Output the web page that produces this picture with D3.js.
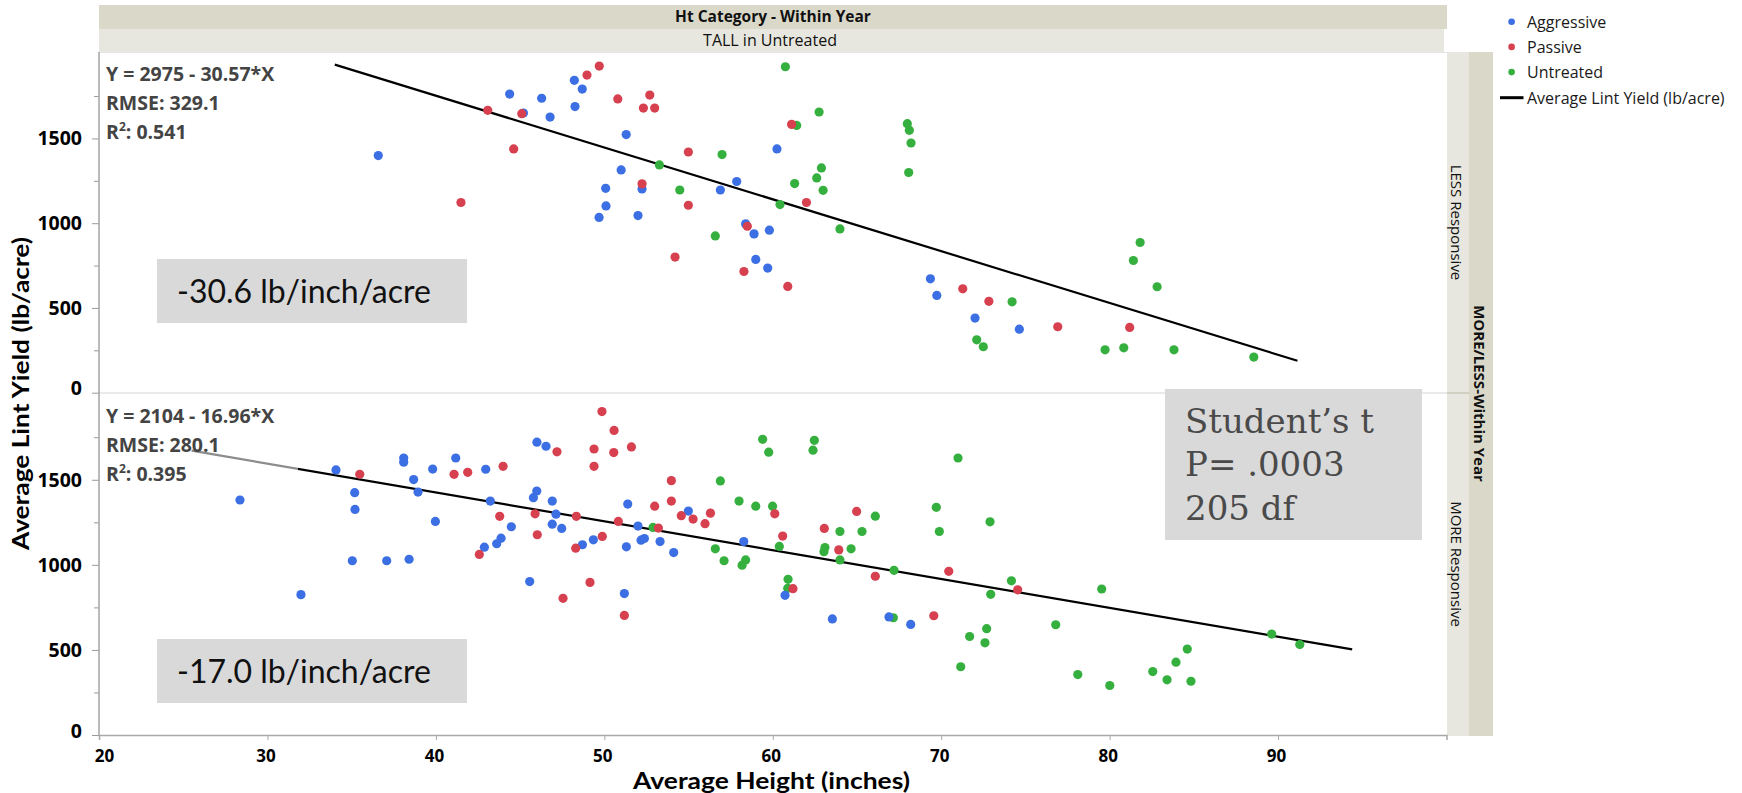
<!DOCTYPE html>
<html>
<head>
<meta charset="utf-8">
<script src="https://cdn.jsdelivr.net/npm/d3@7"></script>
<style>
  body { margin: 0; background: #fff; }
  svg { display: block; font-family: "Open Sans", "Noto Sans", sans-serif; }
</style>
</head>
<body>
<svg id="chart" width="1742" height="793"></svg>
<script>
// ---- data -------------------------------------------------------------
const panelNames = ["LESS Responsive", "MORE Responsive"];
const treatments = ["Aggressive", "Passive", "Untreated"];
const treatmentColors = ["#3b6fe3", "#d6404f", "#35b03f"];
const xTickValues = [20, 30, 40, 50, 60, 70, 80, 90];
const yMajorTicks = [0, 500, 1000, 1500];
const yMinorTicks = [250, 750, 1250, 1750];

// [average height (inches), average lint yield (lb/acre)]
const lessAggressive = [[36.58,1399],[45.2,1650],[44.38,1762],[46.28,1737],[46.78,1626],[48.22,1843],[48.69,1791],[48.26,1688],[51.3,1523],[51.0,1314],[50.08,1206],[50.1,1102],[49.69,1034],[52.24,1202],[52.0,1045],[56.89,1196],[57.86,1246],[58.39,996],[58.89,937],[59.8,959],[58.99,786],[59.7,735],[60.25,1438],[69.36,672],[69.74,574],[72.01,440],[74.64,375]];
const lessPassive = [[41.49,1122],[43.08,1666],[45.1,1646],[44.62,1438],[48.97,1874],[49.7,1927],[50.8,1733],[52.7,1756],[52.32,1679],[52.99,1679],[52.24,1232],[54.99,1420],[54.99,1106],[54.2,800],[58.49,982],[58.29,715],[60.89,627],[61.12,1583],[62.0,1122],[71.28,613],[72.83,539],[76.92,389],[81.19,385]];
const lessUntreated = [[53.27,1344],[54.48,1196],[56.99,1405],[56.59,925],[60.75,1923],[61.42,1577],[62.75,1656],[62.89,1326],[62.61,1267],[61.3,1234],[62.99,1194],[60.43,1110],[63.99,966],[67.99,1587],[68.11,1548],[68.21,1473],[68.07,1299],[72.11,312],[72.5,271],[74.21,536],[81.81,886],[81.41,780],[82.82,625],[79.73,253],[80.84,265],[83.82,253],[88.56,210]];

const moreAggressive = [[28.37,1381],[31.99,825],[34.07,1558],[35.18,1424],[35.2,1326],[35.04,1024],[37.08,1024],[38.41,1033],[38.09,1628],[38.09,1603],[38.68,1501],[38.94,1428],[39.81,1563],[39.97,1255],[41.18,1628],[42.96,1562],[43.23,1375],[44.48,1224],[43.87,1157],[43.61,1124],[42.88,1104],[45.57,902],[46.0,1721],[46.54,1697],[45.99,1434],[45.79,1395],[46.91,1375],[46.91,1239],[47.13,1298],[47.47,1214],[48.7,1118],[49.35,1147],[51.39,1357],[52.0,1228],[51.31,1106],[52.18,1145],[52.38,1155],[51.19,831],[53.31,1137],[54.12,1072],[54.99,1316],[58.28,1137],[60.73,821],[63.54,682],[66.9,694],[68.19,650]];
const morePassive = [[35.48,1532],[41.08,1532],[41.89,1544],[43.99,1579],[43.79,1285],[42.58,1061],[45.89,1300],[46.02,1177],[47.19,1664],[48.34,1285],[48.3,1098],[49.88,1167],[49.15,897],[47.55,803],[49.86,1901],[50.58,1790],[49.39,1681],[50.56,1660],[49.39,1579],[51.61,1693],[50.83,1255],[51.19,703],[52.99,1345],[53.21,1216],[53.98,1495],[53.98,1375],[54.57,1289],[55.27,1269],[55.98,1242],[56.3,1304],[60.12,1300],[60.59,1169],[61.2,860],[63.06,1214],[63.92,1088],[64.98,1314],[66.09,933],[69.56,701],[70.45,962],[74.54,853]];
const moreUntreated = [[52.89,1220],[56.89,1493],[56.59,1094],[57.11,1024],[58.0,1375],[58.99,1345],[58.18,998],[58.39,1029],[59.4,1738],[59.76,1662],[59.99,1345],[60.39,1108],[60.91,915],[60.89,862],[62.47,1732],[62.39,1674],[63.1,1102],[63.04,1077],[63.99,1196],[63.99,1029],[64.65,1094],[65.3,1196],[66.09,1286],[67.2,968],[67.16,689],[69.71,1338],[69.89,1196],[71.0,1628],[72.9,1253],[72.94,827],[72.7,625],[72.6,542],[71.69,579],[71.16,401],[74.17,906],[76.8,648],[79.53,858],[78.11,355],[80.01,291],[82.56,373],[83.41,324],[83.94,428],[84.61,505],[84.83,316],[89.62,593],[91.29,532]];

// linear fits per panel: yield = intercept + slope * height
const fitIntercepts = [2975, 2104];
const fitSlopes = [-30.57, -16.96];
const fitRMSE = ["329.1", "280.1"];
const fitR2 = ["0.541", "0.395"];
const fitFrom = [34.0, 25.5];
const fitTo = [91.15, 94.4];

const testLines = ["Student\u2019s t", "P= .0003", "205 df"];

// ---- layout -----------------------------------------------------------
const svg = d3.select("#chart");
const plotL = 99, plotR = 1447;
const panelTop = [52, 393], panelBottom = [393, 735];
const stripDark = "#dad9c9", stripLight = "#e7e7df";

const x = d3.scaleLinear().domain([20, 100]).range([plotL, plotR - 0.5]);
const yScales = [0, 1].map(i =>
  d3.scaleLinear().domain([0, 2010]).range([panelBottom[i] - (i === 0 ? 0.3 : 0), panelTop[i]]));

const panelSeries = [
  [lessAggressive, lessPassive, lessUntreated],
  [moreAggressive, morePassive, moreUntreated]
];

// header strips
svg.append("rect").attr("x", plotL).attr("y", 5).attr("width", plotR - plotL).attr("height", 24).attr("fill", stripDark);
svg.append("rect").attr("x", plotL).attr("y", 29).attr("width", plotR - plotL - 3).attr("height", 23).attr("fill", stripLight);
svg.append("text").attr("x", 773).attr("y", 22).attr("text-anchor", "middle")
  .attr("font-size", 15.5).attr("font-weight", 700).attr("fill", "#111").text("Ht Category - Within Year");
svg.append("text").attr("x", 770).attr("y", 46).attr("text-anchor", "middle")
  .attr("font-size", 16).attr("fill", "#111").text("TALL in Untreated");

// side strips
svg.append("rect").attr("x", plotR).attr("y", 52).attr("width", 22).attr("height", 684).attr("fill", stripLight);
svg.append("rect").attr("x", plotR + 22).attr("y", 52).attr("width", 24).attr("height", 684).attr("fill", stripDark);
svg.append("line").attr("x1", plotR).attr("x2", plotR + 22).attr("y1", 393).attr("y2", 393)
  .attr("stroke", "#cfcfc2").attr("stroke-width", 2);
panelNames.forEach((name, i) => {
  const cy = (panelTop[i] + panelBottom[i]) / 2;
  svg.append("text").attr("transform", `translate(${plotR + 10},${cy}) rotate(90)`)
    .attr("text-anchor", "middle").attr("dominant-baseline", "central")
    .attr("font-size", 15).attr("fill", "#111").text(name);
});
svg.append("text").attr("transform", `translate(${plotR + 33},${393.5}) rotate(90)`)
  .attr("text-anchor", "middle").attr("dominant-baseline", "central")
  .attr("font-size", 15).attr("font-weight", 700).attr("fill", "#111").text("MORE/LESS-Within Year");

// panel frame lines
svg.append("line").attr("x1", plotL).attr("x2", plotR).attr("y1", 52.5).attr("y2", 52.5).attr("stroke", "#e6e6e6");
svg.append("line").attr("x1", plotL).attr("x2", plotR).attr("y1", 393).attr("y2", 393).attr("stroke", "#e3e3e3").attr("stroke-width", 1.5);

// y axes
yScales.forEach((y, i) => {
  const g = svg.append("g").attr("transform", `translate(${plotL},0)`);
  g.call(d3.axisLeft(y).tickValues(yMinorTicks).tickSize(5).tickFormat(""));
  const gm = svg.append("g").attr("transform", `translate(${plotL},0)`);
  gm.call(d3.axisLeft(y).tickValues(yMajorTicks).tickSize(7).tickPadding(10).tickFormat(d3.format("d")));
  [g, gm].forEach(a => {
    a.select(".domain").remove();
    a.selectAll("line").attr("stroke", "#9a9a9a");
  });
  gm.selectAll("text").attr("font-size", 19.5).attr("font-weight", 700).attr("fill", "#000")
    .attr("font-family", "'Open Sans', sans-serif")
    .attr("y", d => d === 0 ? -4 : 0);
});
svg.append("line").attr("x1", plotL).attr("x2", plotL).attr("y1", 52).attr("y2", 736)
  .attr("stroke", "#a3a3a3").attr("stroke-width", 1.5);

// x axis
const gx = svg.append("g").attr("transform", `translate(0,735)`)
  .call(d3.axisBottom(x).tickValues(xTickValues).tickSize(5).tickPadding(10));
gx.select(".domain").attr("stroke", "#a8a8a8").attr("stroke-width", 1.5);
gx.selectAll("line").attr("stroke", "#a8a8a8");
gx.selectAll("text").attr("font-size", 17).attr("font-weight", 700).attr("fill", "#000")
  .attr("font-family", "'Open Sans', sans-serif")
  .attr("x", d => d === 20 ? 5 : -2);

// axis titles
svg.append("text").attr("x", 771.5).attr("y", 789).attr("text-anchor", "middle")
  .attr("font-family", "Lato, 'Open Sans', sans-serif")
  .attr("font-size", 23).attr("font-weight", 700).attr("fill", "#000")
  .attr("textLength", 277).attr("lengthAdjust", "spacingAndGlyphs")
  .text("Average Height (inches)");
svg.append("text").attr("transform", "translate(29,393.5) rotate(-90)").attr("text-anchor", "middle")
  .attr("font-family", "Lato, 'Open Sans', sans-serif")
  .attr("font-size", 23).attr("font-weight", 700).attr("fill", "#000")
  .attr("textLength", 313).attr("lengthAdjust", "spacingAndGlyphs")
  .text("Average Lint Yield (lb/acre)");

// fits, points and annotations per panel
const slopeBoxY = [259, 639];
panelSeries.forEach((series, i) => {
  const y = yScales[i];
  const line = d3.line().x(d => x(d)).y(d => y(fitIntercepts[i] + fitSlopes[i] * d));
  svg.append("path").datum([fitFrom[i], fitTo[i]]).attr("d", line)
    .attr("fill", "none").attr("stroke", "#000").attr("stroke-width", 2.2);

  // points: untreated first, then aggressive, then passive on top
  [2, 0, 1].forEach(k => {
    svg.append("g").selectAll("circle").data(series[k]).join("circle")
      .attr("cx", d => x(d[0])).attr("cy", d => y(d[1])).attr("r", 4.6)
      .attr("fill", treatmentColors[k]);
  });

  // fit summary with a translucent backing
  const t0 = panelTop[i];
  svg.append("rect").attr("x", 104).attr("y", t0 + 10).attr("width", 194).attr("height", 88)
    .attr("fill", "#fff").attr("opacity", 0.55);
  const ann = svg.append("g").attr("font-size", 19.5).attr("font-weight", 700).attr("fill", "#444");
  const base = i === 0 ? [81.3, 110.3, 139] : [423, 452, 480.7];
  ann.append("text").attr("x", 106).attr("y", base[0])
    .text(`Y = ${fitIntercepts[i]} - ${Math.abs(fitSlopes[i]).toFixed(2)}*X`);
  ann.append("text").attr("x", 106).attr("y", base[1]).text(`RMSE: ${fitRMSE[i]}`);
  const r2 = ann.append("text").attr("x", 106).attr("y", base[2]);
  r2.append("tspan").text("R");
  r2.append("tspan").attr("font-size", 12).attr("dy", -8).text("2");
  r2.append("tspan").attr("dy", 8).text(`: ${fitR2[i]}`);

  // slope call-out
  svg.append("rect").attr("x", 157).attr("y", slopeBoxY[i]).attr("width", 310).attr("height", 64).attr("fill", "#d9d9d9");
  svg.append("text").attr("x", 177).attr("y", slopeBoxY[i] + 43.5)
    .attr("font-family", "Lato, 'Open Sans', sans-serif").attr("font-size", 32).attr("fill", "#111")
    .text(`${fitSlopes[i].toFixed(1)} lb/inch/acre`);
});

// t-test call-out spanning the panel boundary
svg.append("rect").attr("x", 1165).attr("y", 389).attr("width", 257).attr("height", 151).attr("fill", "#d9d9d9");
testLines.forEach((s, j) => {
  svg.append("text").attr("x", 1185).attr("y", 433 + j * 43.35)
    .attr("font-family", "'DejaVu Serif', serif").attr("font-size", 34).attr("fill", "#4a4a4a")
    .text(s);
});

// legend
const legend = svg.append("g");
treatments.forEach((name, k) => {
  const cy = 21.7 + k * 25.2;
  legend.append("circle").attr("cx", 1511.6).attr("cy", cy).attr("r", 3.3).attr("fill", treatmentColors[k]);
  legend.append("text").attr("x", 1527).attr("y", cy).attr("dominant-baseline", "central")
    .attr("font-size", 16).attr("fill", "#1a1a1a").text(name);
});
legend.append("line").attr("x1", 1500).attr("x2", 1523.5).attr("y1", 97.7).attr("y2", 97.7)
  .attr("stroke", "#000").attr("stroke-width", 3);
legend.append("text").attr("x", 1527).attr("y", 97.7).attr("dominant-baseline", "central")
  .attr("font-size", 16).attr("fill", "#1a1a1a").text("Average Lint Yield (lb/acre)");
</script>
</body>
</html>
